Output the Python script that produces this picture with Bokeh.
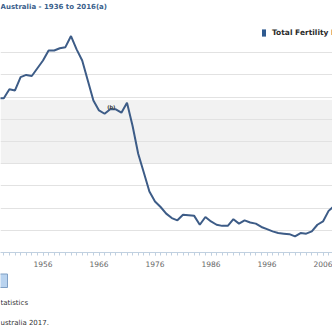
from bokeh.plotting import figure
from bokeh.models import (Range1d, FixedTicker, Grid, BoxAnnotation, Label,
                          Legend, LegendItem, ColumnDataSource)
from bokeh.layouts import column
from bokeh.core.properties import value
from bokeh.embed import file_html
from bokeh.resources import INLINE

# ---------------- data ----------------
years = list(range(1948, 2009))
tfr = [2.99, 2.99, 3.07, 3.06, 3.18, 3.20, 3.19, 3.26, 3.33, 3.42,
       3.42, 3.44, 3.45, 3.55, 3.43, 3.33, 3.15, 2.97, 2.88, 2.85,
       2.89, 2.89, 2.86, 2.95, 2.74, 2.49, 2.32, 2.15, 2.06, 2.01,
       1.95, 1.91, 1.89, 1.94, 1.935, 1.93, 1.85, 1.92, 1.88, 1.85,
       1.84, 1.84, 1.90, 1.86, 1.89, 1.87, 1.86, 1.83, 1.81, 1.79,
       1.775, 1.77, 1.765, 1.745, 1.775, 1.77, 1.79, 1.85, 1.88, 1.975,
       2.02]
x_tick_years = [1956, 1966, 1976, 1986, 1996, 2006]
x_minor_years = list(range(1936, 2017))
y_grid_values = [1.8, 2.0, 2.2, 2.4, 2.6, 2.8, 3.0, 3.2, 3.4]
band_range = (2.4, 2.973)
series_name = "Total Fertility Rate"
title_text = "Australia - 1936 to 2016(a)"
break_marker = "(b)"
break_year = 1968.2
break_value = 2.913
footer_1 = "tatistics"
footer_2 = "ustralia 2017."

# ---------------- scales ----------------
PX_PER_YEAR = 5.6
X0 = 1956 - 42.5 / PX_PER_YEAR
X1 = X0 + 332 / PX_PER_YEAR
PX_PER_UNIT = 111.0
FRAME_H = 252
Y0 = 1.6
Y1 = Y0 + FRAME_H / PX_PER_UNIT


def ypx(py):
    return Y0 + (FRAME_H - py) / PX_PER_UNIT


LINE_COLOR = "#3d5c87"

p = figure(width=332, height=272, x_range=Range1d(X0, X1), y_range=Range1d(Y0, Y1),
           output_backend="svg", toolbar_location=None, y_axis_location=None,
           min_border_left=0, min_border_right=0, min_border_top=0, min_border_bottom=20)
p.outline_line_color = None
p.background_fill_color = "white"
p.border_fill_color = "white"
p.grid.visible = False

band = BoxAnnotation(bottom=band_range[0], top=band_range[1], fill_color="#f2f2f2",
                     fill_alpha=1.0, line_color=None, level="underlay")
p.add_layout(band)
p.add_layout(Grid(dimension=1, ticker=FixedTicker(ticks=y_grid_values),
                  grid_line_color="#e2e2e2", grid_line_width=1))

src = ColumnDataSource(dict(year=years, tfr=tfr))
p.line("year", "tfr", source=src, line_color=LINE_COLOR, line_width=2)

# x axis
ax = p.xaxis[0]
ax.ticker = FixedTicker(ticks=x_tick_years, minor_ticks=x_minor_years)
ax.axis_line_color = "#c0d0e0"
ax.major_tick_line_color = "#c0d0e0"
ax.minor_tick_line_color = "#c0d0e0"
ax.major_tick_out = 3
ax.minor_tick_out = 3
ax.major_tick_in = 0
ax.minor_tick_in = 0
ax.major_label_standoff = 5
ax.major_label_text_font = "DejaVu Sans"
ax.major_label_text_font_size = "7.5px"
ax.major_label_text_color = "#666666"

# legend (swatch renderer carries no visible data)
nan = float("nan")
swatch = p.quad(left=[nan], right=[nan], top=[nan], bottom=[nan],
                fill_color="#2f5a8f", line_color=None)
legend = Legend(items=[LegendItem(label=series_name, renderers=[swatch], index=0)],
                location=(261, 215), padding=0, margin=0, spacing=0,
                glyph_width=5, glyph_height=9, label_height=9, label_standoff=6,
                label_text_font="DejaVu Sans", label_text_font_style="bold",
                label_text_font_size="7.5px", label_text_color="#2b2b2b",
                background_fill_alpha=0, border_line_color=None)
p.add_layout(legend)

# title
p.add_layout(Label(x=X0, y=ypx(2), text=title_text, text_align="left", text_baseline="top",
                   text_font="DejaVu Sans", text_font_style="bold", text_font_size="7px",
                   text_color="#3a5f8c"))
# break marker
p.add_layout(Label(x=break_year, y=break_value, text=break_marker, text_align="center",
                   text_baseline="middle", text_font="DejaVu Sans", text_font_style="bold",
                   text_font_size="5px", text_color="#333333"))

# ---------------- footer ----------------
p2 = figure(width=332, height=60, x_range=Range1d(0, 332), y_range=Range1d(332, 272),
            output_backend="svg", toolbar_location=None, x_axis_location=None,
            y_axis_location=None, min_border=0)
p2.outline_line_color = None
p2.grid.visible = False
p2.background_fill_color = "white"
p2.border_fill_color = "white"
p2.quad(left=[-4], right=[7], top=[273.5], bottom=[287], fill_color="#b9d3ef",
        line_color="#7f9fc4", line_width=1)
p2.text(x=[0, 0], y=[302.5, 322.5], text=[footer_1, footer_2],
        text_font=value("DejaVu Sans"), text_font_size="7px", text_baseline="middle",
        text_align="left", text_color="#333333")

layout = column(p, p2, spacing=0)
open("out.html", "w").write(file_html(layout, INLINE))
